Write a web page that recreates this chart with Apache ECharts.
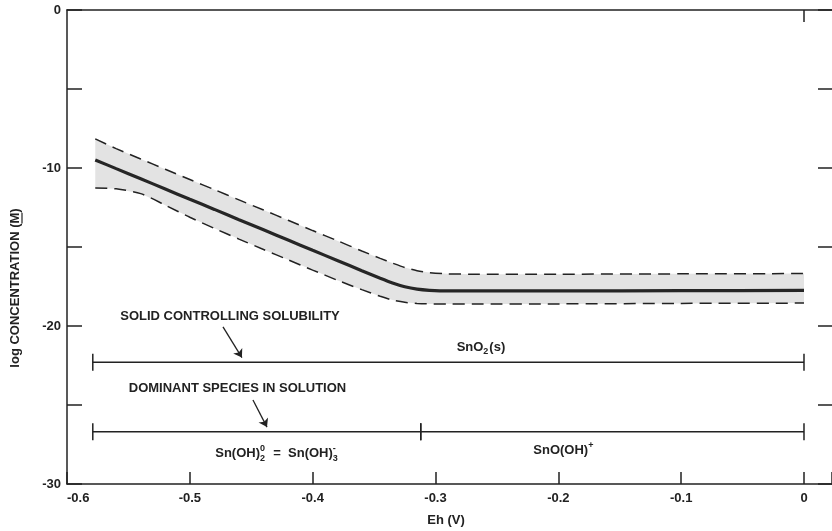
<!DOCTYPE html>
<html>
<head>
<meta charset="utf-8">
<script src="https://cdn.jsdelivr.net/npm/echarts@6/dist/echarts.min.js"></script>
<style>
  html, body { margin: 0; padding: 0; background: #fff; }
  #chart { width: 832px; height: 531px; }
</style>
</head>
<body>
<div id="chart"></div>
<script>
// Eh grid (V) shared by the three solubility curves
const ehGrid   = [-0.577, -0.56, -0.54, -0.52, -0.50, -0.48, -0.46, -0.44, -0.42, -0.40, -0.38, -0.36, -0.345, -0.335, -0.325, -0.315, -0.305, -0.29, -0.27, -0.2, -0.1, 0];
// log concentration: best estimate and its upper / lower bounds
const logMid   = [-9.49, -10.04, -10.68, -11.33, -11.98, -12.62, -13.27, -13.91, -14.56, -15.21, -15.85, -16.50, -16.98, -17.28, -17.52, -17.67, -17.74, -17.78, -17.78, -17.78, -17.76, -17.75];
const logUpper = [-8.16, -8.77, -9.43, -10.08, -10.73, -11.37, -12.02, -12.66, -13.31, -13.96, -14.60, -15.25, -15.72, -16.02, -16.30, -16.50, -16.62, -16.70, -16.72, -16.72, -16.70, -16.68];
const logLower = [-11.27, -11.32, -11.62, -12.35, -13.12, -13.82, -14.50, -15.16, -15.81, -16.46, -17.10, -17.70, -18.12, -18.36, -18.50, -18.57, -18.60, -18.60, -18.60, -18.60, -18.57, -18.55];

// Stability ranges (Eh, V) and the levels at which they are drawn
const solidBounds   = [-0.579, 0];
const solidLevel    = -22.3;
const speciesBounds = [-0.579, -0.312, 0];
const speciesLevel  = -26.7;

// Text
const xTitle = 'Eh (V)';
const yTitleLead = 'log CONCENTRATION (';
const yTitleUnit = 'M';
const yTitleTail = ')';
const noteLines = ['SOLID CONTROLLING SOLUBILITY', 'DOMINANT SPECIES IN SOLUTION'];
const solidPhase   = [['SnO', ''], ['2', 'sub'], ['(s)', '']];
const lowEhSpecies = [['Sn(OH)', ''], ['20', 'subsup'], ['  =  Sn(OH)', ''], ['3-', 'subsup']];
const highEhSpecies = [['SnO(OH)', ''], ['+', 'sup']];

const FONT = '"Liberation Sans", Arial, Helvetica, sans-serif';
const INK = '#222222';
const BAND = '#e3e3e3';

const measureCtx = document.createElement('canvas').getContext('2d');
function textWidth(str, size) {
  measureCtx.font = 'bold ' + size + 'px ' + FONT;
  return measureCtx.measureText(str).width;
}

function textEl(str, size, x, y, align) {
  return {
    type: 'text', x: x, y: y,
    style: {
      text: str, font: 'bold ' + size + 'px ' + FONT, fill: INK,
      align: align, verticalAlign: 'middle',
      textAlign: align, textVerticalAlign: 'middle'
    }
  };
}

// Lays out a formula with subscripts / superscripts centred on (cx, cy)
function formulaElements(parts, cx, cy) {
  const BASE = 13, SMALL = 9;
  const widths = parts.map(function (p) {
    const t = p[0], role = p[1];
    if (role === '') return textWidth(t, BASE);
    if (role === 'subsup') return Math.max(textWidth(t[0], SMALL), textWidth(t[1], SMALL)) + 1;
    return textWidth(t, SMALL) + 1;
  });
  const total = widths.reduce(function (a, b) { return a + b; }, 0);
  let x = cx - total / 2;
  const out = [];
  parts.forEach(function (p, i) {
    const t = p[0], role = p[1];
    if (role === '') out.push(textEl(t, BASE, x, cy, 'left'));
    else if (role === 'sub') out.push(textEl(t, SMALL, x, cy + 5, 'left'));
    else if (role === 'sup') out.push(textEl(t, SMALL, x, cy - 5, 'left'));
    else {
      out.push(textEl(t[0], SMALL, x, cy + 5, 'left'));
      out.push(textEl(t[1], SMALL, x, cy - 5, 'left'));
    }
    x += widths[i];
  });
  return out;
}

const zip = (xs, ys) => xs.map((x, i) => [x, ys[i]]);

// Range bars: [from, to, level]
const rangeBars = [[solidBounds[0], solidBounds[1], solidLevel]];
for (let i = 0; i < speciesBounds.length - 1; i++) {
  rangeBars.push([speciesBounds[i], speciesBounds[i + 1], speciesLevel]);
}

// Annotation texts and their anchors in data coordinates
const labelParts = [[[noteLines[0], '']], [[noteLines[1], '']], solidPhase, lowEhSpecies, highEhSpecies];
const labelAnchors = [[-0.4673, -19.37], [-0.4612, -23.92], [-0.263, -21.33], [-0.429, -28.04], [-0.1955, -27.85]];

const axisLineStyle = { color: INK, width: 1.5 };
const tickFont = { color: INK, fontFamily: FONT, fontWeight: 'bold', fontSize: 13 };
// the frame continues a little past Eh = 0
const EH_MAX = 0.0228;

const chart = echarts.init(document.getElementById('chart'), null, { renderer: 'canvas' });

const titleW = textWidth(yTitleLead + yTitleUnit + yTitleTail, 13);
const leadW = textWidth(yTitleLead, 13);
const unitW = textWidth(yTitleUnit, 13);

chart.setOption({
  animation: false,
  backgroundColor: '#ffffff',
  grid: { left: 67, right: 0, top: 10, bottom: 47, outerBoundsMode: 'none', containLabel: false },
  xAxis: [
    {
      type: 'value', min: -0.6, max: EH_MAX, interval: 0.1, position: 'bottom',
      axisLine: { onZero: false, lineStyle: axisLineStyle },
      axisTick: { inside: true, length: 12, lineStyle: axisLineStyle },
      axisLabel: Object.assign({
        margin: 8, alignMinLabel: 'left',
        formatter: v => (v > 1e-6 ? '' : String(+v.toFixed(1)))
      }, tickFont),
      splitLine: { show: false }
    },
    {
      type: 'value', min: -0.6, max: EH_MAX, position: 'top',
      axisLine: { onZero: false, lineStyle: axisLineStyle },
      axisTick: { inside: true, length: 12, customValues: [0], lineStyle: axisLineStyle },
      axisLabel: { show: false },
      splitLine: { show: false }
    }
  ],
  yAxis: [
    {
      type: 'value', min: -30, max: 0, interval: 5, position: 'left',
      axisLine: { onZero: false, lineStyle: axisLineStyle },
      axisTick: { inside: true, length: 15, lineStyle: axisLineStyle },
      axisLabel: Object.assign({
        margin: 6,
        formatter: v => (v % 10 === 0 ? String(v) : '')
      }, tickFont),
      splitLine: { show: false }
    },
    {
      type: 'value', min: -30, max: 0, interval: 5, position: 'right',
      axisLine: { show: false, onZero: false },
      axisTick: { show: true, inside: true, length: 14, lineStyle: axisLineStyle },
      axisLabel: { show: false },
      splitLine: { show: false }
    }
  ],
  graphic: [
    {
      type: 'group', x: 15, y: 288, rotation: Math.PI / 2,
      children: [
        textEl(yTitleLead + yTitleUnit + yTitleTail, 13, 0, 0, 'center'),
        {
          type: 'line',
          shape: { x1: -titleW / 2 + leadW, y1: 7, x2: -titleW / 2 + leadW + unitW, y2: 7 },
          style: { stroke: INK, lineWidth: 1.2 }
        }
      ]
    },
    textEl(xTitle, 13, 446, 520, 'center')
  ],
  series: [
    {
      // uncertainty band between the two bounds
      type: 'custom', name: 'band', z: 1, silent: true,
      data: [[ehGrid[0], logUpper[0]]],
      renderItem: function (params, api) {
        const pts = ehGrid.map((e, i) => api.coord([e, logUpper[i]]));
        for (let i = ehGrid.length - 1; i >= 0; i--) pts.push(api.coord([ehGrid[i], logLower[i]]));
        return { type: 'polygon', shape: { points: pts }, style: { fill: BAND } };
      }
    },
    {
      type: 'line', name: 'upper', z: 3, silent: true, symbol: 'none', smooth: 0.25,
      data: zip(ehGrid, logUpper),
      lineStyle: { color: INK, width: 1.5, type: [12, 7] }
    },
    {
      type: 'line', name: 'lower', z: 3, silent: true, symbol: 'none', smooth: 0.25,
      data: zip(ehGrid, logLower),
      lineStyle: { color: INK, width: 1.5, type: [12, 7] }
    },
    {
      type: 'line', name: 'estimate', z: 4, silent: true, symbol: 'none', smooth: 0.25,
      data: zip(ehGrid, logMid),
      lineStyle: { color: '#262626', width: 3.2 }
    },
    {
      // stability ranges with end caps
      type: 'custom', name: 'ranges', z: 5, silent: true,
      encode: { x: [0, 1], y: 2 },
      data: rangeBars,
      renderItem: function (params, api) {
        const a = api.coord([api.value(0), api.value(2)]);
        const b = api.coord([api.value(1), api.value(2)]);
        const h = 8.5;
        const st = { stroke: INK, lineWidth: 1.5 };
        return {
          type: 'group',
          children: [
            { type: 'line', shape: { x1: a[0], y1: a[1], x2: b[0], y2: b[1] }, style: st },
            { type: 'line', shape: { x1: a[0], y1: a[1] - h, x2: a[0], y2: a[1] + h }, style: st },
            { type: 'line', shape: { x1: b[0], y1: b[1] - h, x2: b[0], y2: b[1] + h }, style: st }
          ]
        };
      }
    },
    {
      // pointers from the notes to the range bars
      type: 'line', name: 'pointers', z: 5, silent: true, data: [],
      markLine: {
        silent: true, animation: false,
        symbol: ['none', 'arrow'], symbolSize: 8,
        label: { show: false },
        lineStyle: { color: INK, width: 1.3, type: 'solid' },
        data: [
          [{ coord: [-0.473, -20.06] }, { coord: [-0.4576, -22.0] }],
          [{ coord: [-0.4486, -24.68] }, { coord: [-0.4372, -26.4] }]
        ]
      }
    },
    {
      type: 'custom', name: 'notes', z: 6, silent: true,
      encode: { x: 0, y: 1 },
      data: labelAnchors.map((p, i) => [p[0], p[1], i]),
      renderItem: function (params, api) {
        const c = api.coord([api.value(0), api.value(1)]);
        return { type: 'group', children: formulaElements(labelParts[api.value(2)], c[0], c[1]) };
      }
    }
  ]
});
</script>
</body>
</html>
